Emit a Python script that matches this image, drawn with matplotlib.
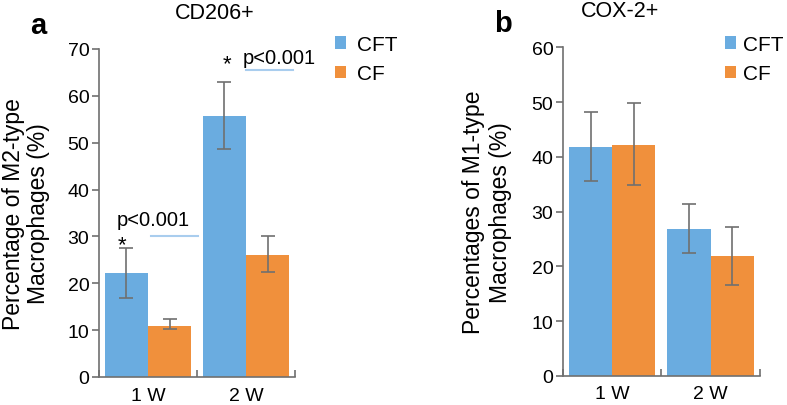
import numpy as np
import matplotlib.pyplot as plt

plt.rcParams['font.family'] = ['Liberation Sans', 'DejaVu Sans']

groups = ['1 W', '2 W']
series = ['CFT', 'CF']

# panel a: CD206+ (M2)
m2_cft = [22.2, 55.7]
m2_cft_err_lo = [16.8, 48.6]
m2_cft_err_hi = [27.6, 63.0]
m2_cf = [10.9, 26.1]
m2_cf_err_lo = [10.2, 22.5]
m2_cf_err_hi = [12.3, 30.0]

# panel b: COX-2+ (M1)
m1_cft = [41.7, 26.8]
m1_cft_err_lo = [35.6, 22.4]
m1_cft_err_hi = [48.1, 31.3]
m1_cf = [42.2, 21.9]
m1_cf_err_lo = [34.9, 16.6]
m1_cf_err_hi = [49.8, 27.2]

blue = '#6aace0'
orange = '#f0903c'
grey = '#707070'
fs = 14


def draw(ax, vals_list, lo_list, hi_list, ymax, ylabel, lab_x, lab_sp,
         title, title_x, letter, leg_x, leg_pad):
    x = np.arange(len(groups))
    w = 0.44
    for k, (vals, lo, hi, col, name) in enumerate(zip(vals_list, lo_list, hi_list, [blue, orange], series)):
        vals = np.array(vals)
        pos = x - w / 2 + k * w
        err = [vals - np.array(lo), np.array(hi) - vals]
        ax.bar(pos, vals, w, color=col, label=name, zorder=2)
        ax.errorbar(pos, vals, yerr=err, fmt='none', ecolor=grey, elinewidth=1.2,
                    capsize=4.7, capthick=1.2, zorder=3)
    ax.set_xlim(-0.5, 1.5)
    ax.set_ylim(0, ymax)
    ax.set_yticks(np.arange(0, ymax + 1, 10))
    ax.set_xticks([-0.5, 0.5, 1.5])
    ax.set_xticks(x, minor=True)
    ax.set_xticklabels(['', '', ''])
    ax.set_xticklabels(groups, minor=True)
    ax.tick_params(axis='x', which='major', direction='in', length=5, color=grey, width=1.2)
    ax.tick_params(axis='x', which='minor', length=0, labelsize=fs, pad=7)
    ax.tick_params(axis='y', direction='out', length=5, color=grey, width=1.2, labelsize=fs, pad=2)
    for s in ['top', 'right']:
        ax.spines[s].set_visible(False)
    for s in ['left', 'bottom']:
        ax.spines[s].set_color(grey)
        ax.spines[s].set_linewidth(1.2)
    ax.set_ylabel(ylabel, fontsize=16.5, linespacing=lab_sp)
    ax.yaxis.set_label_coords(lab_x, 0.5)
    ax.text(title_x, 1.112, title, transform=ax.transAxes, fontsize=15.5,
            ha='center', va='center')
    ax.text(-0.35, 1.05, letter, transform=ax.transAxes, fontsize=21, fontweight='bold',
            ha='left', va='baseline')
    ax.legend(loc='upper left', bbox_to_anchor=(leg_x, 1 - 36 / 406),
              bbox_transform=ax.figure.transFigure, borderaxespad=0, borderpad=0,
              frameon=False, fontsize=15, handlelength=0.55, handleheight=0.55,
              handletextpad=leg_pad, labelspacing=0.5)


fig = plt.figure(figsize=(7.87, 4.06), dpi=100)
ax1 = fig.add_axes([0.1258, 0.069, 0.249, 0.808])
ax2 = fig.add_axes([0.7154, 0.072, 0.250, 0.809])

draw(ax1, [m2_cft, m2_cf], [m2_cft_err_lo, m2_cf_err_lo], [m2_cft_err_hi, m2_cf_err_hi],
     70, 'Percentage of M2-type\nMacrophages (%)', -0.25, 1.1,
     'CD206+', 0.59, 'a', 335 / 787, 0.5)
draw(ax2, [m1_cft, m1_cf], [m1_cft_err_lo, m1_cf_err_lo], [m1_cft_err_hi, m1_cf_err_hi],
     60, 'Percentages of M1-type\nMacrophages (%)', -0.26, 1.2,
     'COX-2+', 0.29, 'b', 725 / 787, 0.3)

# significance marks in panel a
ax1.plot([0.03, 0.51], [30, 30], color='#a9cdee', lw=1.5)
ax1.text(-0.265, 28.3, '*', fontsize=16, ha='center', va='center')
ax1.text(0.056, 33.7, 'p<0.001', fontsize=14.5, ha='center', va='center')
ax1.plot([1.0, 1.48], [65.5, 65.5], color='#a9cdee', lw=1.5)
ax1.text(0.806, 66.8, '*', fontsize=16, ha='center', va='center')
ax1.text(1.337, 68.2, 'p<0.001', fontsize=14.5, ha='center', va='center')

fig.savefig('out.png', dpi=100)
